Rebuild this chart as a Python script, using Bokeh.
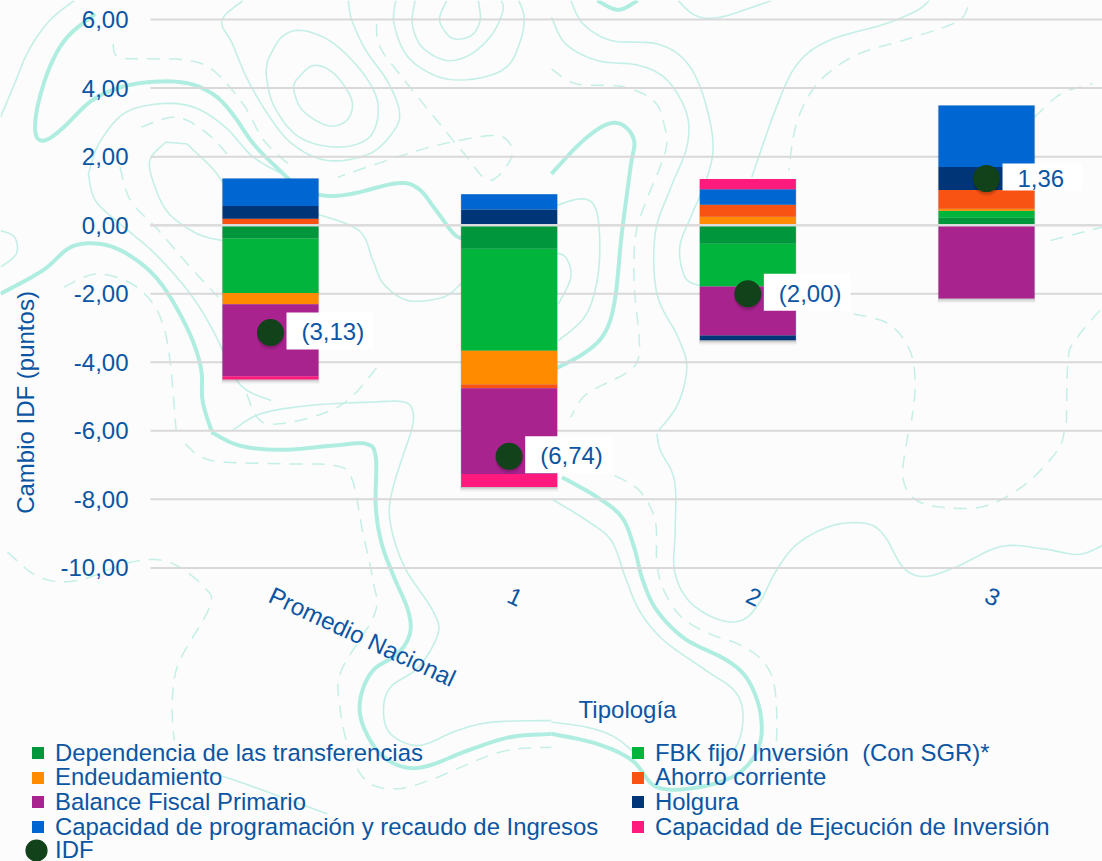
import math
import numpy as np
from bokeh.embed import file_html
from bokeh.resources import INLINE
from bokeh.plotting import figure
from bokeh.models import (Range1d, LinearAxis, FixedTicker, Legend, LegendItem, Label)

# ---------- data ----------
categories = ["Promedio Nacional", "1", "2", "3"]
dependencia = [-0.39, -0.69, -0.54, 0.22]
fbk = [-1.59, -2.97, -1.25, 0.20]
endeudamiento = [-0.33, -0.99, 0.25, 0.06]
ahorro = [0.19, -0.11, 0.35, 0.55]
balance = [-2.10, -2.50, -1.43, -2.14]
holgura = [0.37, 0.46, -0.14, 0.67]
capacidad_prog = [0.80, 0.44, 0.45, 1.79]
capacidad_ejec = [-0.09, -0.38, 0.30, 0.0]
idf = [-3.13, -6.74, -2.00, 1.36]
idf_labels = ["(3,13)", "(6,74)", "(2,00)", "1,36"]
y_ticks = [6, 4, 2, 0, -2, -4, -6, -8, -10]

series = [
    ("Dependencia de las transferencias", dependencia, "#00963C"),
    ("FBK fijo/ Inversión  (Con SGR)*", fbk, "#00B43C"),
    ("Endeudamiento", endeudamiento, "#FF8C00"),
    ("Ahorro corriente", ahorro, "#F95314"),
    ("Balance Fiscal Primario", balance, "#A9238F"),
    ("Holgura", holgura, "#003578"),
    ("Capacidad de programación y recaudo de Ingresos", capacidad_prog, "#0067D2"),
    ("Capacidad de Ejecución de Inversión", capacidad_ejec, "#FF1A7E"),
]

TEXT = "#0B55A3"
GRID = "#D9D9D9"
FONT = "Liberation Sans"
W, H = 1102, 861

PX_X0, PX_DX = 270.0, 238.67
PX_Y0, PX_DY = 224.7, 34.27
GRID_LEFT = (150 - PX_X0) / PX_DX
GRID_RIGHT = (W - PX_X0) / PX_DX

p = figure(width=W, height=H, output_backend="svg", toolbar_location=None,
           x_axis_type=None, y_axis_type=None,
           x_range=Range1d(-PX_X0 / PX_DX, (W - PX_X0) / PX_DX),
           y_range=Range1d((PX_Y0 - H) / PX_DY, PX_Y0 / PX_DY),
           min_border=0, min_border_left=0, min_border_right=0, min_border_top=0, min_border_bottom=0,
           outline_line_color=None, background_fill_color="#FCFCFC", border_fill_color="#FCFCFC")
p.grid.visible = False
p.extra_x_ranges["px"] = Range1d(0, W)
p.extra_y_ranges["px"] = Range1d(H, 0)


def smooth(pts):
    pts = np.array(pts, float)
    pp = np.vstack([pts[0], pts, pts[-1]])
    out = []
    for i in range(1, len(pp) - 2):
        p0, p1, p2, p3 = pp[i - 1], pp[i], pp[i + 1], pp[i + 2]
        for t in np.linspace(0, 1, 8, endpoint=False):
            out.append(0.5 * (2 * p1 + (p2 - p0) * t + (2 * p0 - 5 * p1 + 4 * p2 - p3) * t ** 2
                              + (3 * p1 - p0 - 3 * p2 + p3) * t ** 3))
    out.append(pp[-2])
    return np.array(out)


def q(x0, y0, pts):
    return [(x0 + a / 2.846, y0 + b / 3) for a, b in pts]


Z5 = (0, 0)
Z6 = (551, 0)
Z7 = (0, 430)
Z8 = (551, 430)

thick = [
    q(*Z5, [(270, 40), (190, 110), (140, 200), (105, 320), (100, 400), (125, 420), (175, 385), (260, 300), (350, 258),
            (450, 243), (540, 250), (610, 285), (660, 340), (720, 430), (790, 505), (850, 560), (920, 585), (1000, 580),
            (1130, 548), (1190, 565), (1240, 630), (1290, 700), (1320, 715)]),
    q(*Z6, [(0, 520), (80, 430), (150, 375), (200, 372), (235, 420), (225, 500), (200, 700), (180, 900), (150, 1000),
            (90, 1060), (0, 1110)]),
    q(*Z8, [(30, 140), (130, 200), (200, 260), (235, 350), (260, 450), (300, 540), (380, 625), (500, 690), (560, 750),
            (595, 850), (590, 950), (530, 1030), (420, 1070), (300, 1070), (230, 990), (130, 940), (0, 910)]),
    q(*Z7, [(1568, 910), (1450, 920), (1330, 960), (1220, 1005), (1150, 1010), (1080, 970), (1030, 880), (1025, 800),
            (1060, 720), (1130, 670), (1165, 610), (1160, 540), (1120, 440), (1085, 340), (1068, 230), (1068, 80),
            (1040, 40), (950, 45), (800, 58), (680, 45), (600, 5)]),
    q(*Z5, [(600, 1290), (575, 1200), (570, 1100), (530, 980), (450, 840), (360, 760), (280, 730), (200, 740),
            (120, 810), (0, 880)]),
    q(*Z6, [(130, 0), (190, 28), (245, 0)]),
]
thin = [
    q(*Z5, [(840, 240), (890, 195), (950, 220), (1000, 300), (985, 360), (930, 375), (860, 330), (835, 270), (840, 240)]),
    q(*Z5, [(760, 180), (800, 110), (860, 90), (950, 130), (1040, 230), (1075, 320), (1050, 410), (960, 440), (850, 410),
            (780, 320), (757, 230), (760, 180)]),
    q(*Z5, [(690, 0), (630, 60), (660, 130), (700, 230), (760, 340), (830, 430), (930, 480), (1050, 460), (1120, 390),
            (1135, 330), (1100, 240), (1040, 150), (1000, 60), (990, 0)]),
    q(*Z5, [(1360, 0), (1365, 60), (1340, 105), (1290, 115), (1260, 85), (1250, 50), (1270, 0)]),
    q(*Z5, [(1180, 0), (1172, 70), (1200, 140), (1270, 180), (1340, 160), (1400, 100), (1430, 30), (1425, 0)]),
    q(*Z5, [(1125, 0), (1120, 70), (1160, 170), (1250, 230), (1350, 235), (1440, 200), (1480, 120), (1490, 50), (1475, 0)]),
    q(*Z5, [(250, 520), (280, 430), (350, 340), (450, 310), (550, 320), (640, 380), (720, 470), (820, 530)]),
    q(*Z5, [(470, 425), (425, 480), (440, 560), (480, 640), (560, 700), (630, 720)]),
    q(*Z5, [(530, 430), (470, 425)]),
    q(*Z5, [(530, 430), (600, 500), (632, 545)]),
    q(*Z5, [(900, 640), (1020, 690), (1060, 780), (1090, 850), (1160, 900), (1260, 890), (1310, 850)]),
    q(*Z5, [(250, 520), (270, 600), (340, 670), (440, 760), (540, 880), (610, 1000), (680, 1150), (770, 1200)]),
    q(*Z5, [(660, 1290), (740, 1240), (880, 1215), (1050, 1205), (1150, 1205), (1175, 1240), (1170, 1290)]),
    q(*Z7, [(1170, 0), (1115, 180), (1110, 280), (1150, 410), (1230, 540), (1245, 610), (1190, 710), (1110, 770),
            (1090, 840), (1110, 910), (1190, 945), (1300, 900), (1400, 875), (1568, 870)]),
    q(*Z8, [(0, 875), (100, 890), (180, 920), (250, 980)]),
    q(*Z8, [(0, 205), (100, 270), (170, 330), (210, 440), (250, 540), (320, 630), (440, 720), (520, 780), (545, 850),
            (530, 940), (480, 1000)]),
    q(*Z8, [(300, 10), (310, 60), (350, 150), (352, 300), (350, 420), (390, 510), (470, 565), (540, 570), (590, 520),
            (640, 420), (700, 340), (800, 285), (900, 280), (950, 320), (1000, 410), (1060, 438), (1150, 410),
            (1280, 348), (1400, 355), (1500, 372), (1568, 345)]),
    q(*Z6, [(55, 0), (90, 70), (170, 120), (300, 130), (380, 180), (430, 280), (460, 430), (440, 540), (400, 640),
            (365, 740), (380, 830), (420, 855)]),
    q(*Z6, [(0, 50), (40, 130), (130, 180), (250, 195), (330, 240), (385, 340), (385, 440), (340, 560), (295, 700),
            (300, 880), (360, 1010), (385, 1100), (360, 1210), (305, 1290)]),
    q(*Z6, [(570, 530), (640, 320), (700, 190), (790, 120), (950, 70), (1040, 30), (1075, 0)]),
    q(*Z6, [(360, 0), (410, 45), (480, 50), (600, 10), (625, 0)]),
    q(*Z6, [(0, 620), (90, 595), (130, 640), (135, 800), (100, 940), (20, 1020)]),
    q(*Z6, [(0, 755), (40, 770), (55, 830), (20, 910)]),
    q(*Z5, [(0, 350), (40, 250), (80, 150), (140, 60), (210, 0)]),
    q(*Z5, [(0, 690), (40, 710), (45, 760), (0, 800)]),
    q(*Z7, [(560, 1020), (640, 1040), (800, 1100), (930, 1150)]),
]
dashed = [
    q(*Z6, [(1185, 20), (1170, 50), (1130, 75), (1000, 120), (900, 150), (830, 185), (760, 245), (715, 320), (690, 400), (675, 510)]),
    q(*Z6, [(0, 205), (70, 250), (200, 258), (290, 300), (320, 370), (325, 450), (270, 600), (240, 700), (235, 850),
            (250, 1050), (215, 1115), (100, 1180), (55, 1250)]),
    q(*Z6, [(860, 940), (960, 970), (1020, 1050), (1035, 1150), (1025, 1260)]),
    q(*Z8, [(1015, 10), (1000, 140), (1040, 210), (1130, 232), (1240, 225), (1350, 160), (1440, 60), (1460, 0)]),
    q(*Z8, [(180, 135), (250, 180), (295, 270), (300, 400), (320, 480), (370, 560), (450, 610), (530, 640), (600, 690),
            (635, 770), (640, 930), (620, 1000)]),
    q(*Z6, [(1375, 350), (1450, 280), (1540, 250)]),
    q(*Z6, [(1420, 720), (1568, 680)]),
    q(*Z6, [(1560, 930), (1490, 1020), (1470, 1080), (1465, 1290)]),
    q(*Z5, [(320, 130), (335, 170), (420, 175), (520, 178), (600, 205), (690, 310), (750, 420), (830, 500)]),
    q(*Z5, [(400, 380), (500, 350), (590, 400), (660, 480)]),
    q(*Z5, [(340, 500), (370, 600), (450, 690), (540, 800), (620, 890)]),
    q(*Z5, [(180, 860), (280, 820), (400, 870), (470, 1000), (500, 1290)]),
    q(*Z5, [(1070, 70), (1080, 140), (1150, 240), (1250, 370), (1320, 460), (1390, 540), (1450, 480), (1450, 430), (1400, 405),
            (1240, 435), (1100, 480), (960, 530)]),
    q(*Z5, [(700, 1180), (760, 1270), (960, 1220), (1080, 1090)]),
    q(*Z7, [(20, 365), (110, 440), (220, 450), (370, 395), (480, 395), (580, 470), (595, 530), (510, 690), (490, 790), (490, 880), (495, 930)]),
    q(*Z7, [(525, 40), (600, 90), (800, 100), (950, 105), (1000, 145), (1030, 300), (1060, 450), (1065, 550), (970, 720),
            (965, 820), (990, 950), (1040, 1050), (1120, 1075), (1220, 1050), (1420, 965), (1568, 950)]),
]
for group, col, lw, dash in ((thin, "#C4EFE7", 1.6, "solid"), (dashed, "#C4EFE7", 1.5, "13 9"), (thick, "#B0EDE1", 4, "solid")):
    curves = [smooth(c) for c in group]
    p.multi_line([c[:, 0].tolist() for c in curves], [c[:, 1].tolist() for c in curves],
                 line_color=col, line_width=lw, line_dash=dash, x_range_name="px", y_range_name="px", level="image")

# ---------- gridlines ----------
xi = list(range(len(categories)))
p.segment(x0=[GRID_LEFT] * len(y_ticks), x1=[GRID_RIGHT] * len(y_ticks), y0=y_ticks, y1=y_ticks,
          line_color=GRID, line_width=2, level="underlay")

# ---------- stacked bars ----------
BAR_W = 96 / PX_DX
pos = np.zeros(4)
neg = np.zeros(4)
for name, vals, col in series:
    v = np.array(vals)
    neg = neg + np.minimum(v, 0)
    pos = pos + np.maximum(v, 0)
tot_pos, tot_neg = pos.copy(), neg.copy()
for extra, alpha in ((0.14, 0.03), (0.10, 0.05), (0.06, 0.07), (0.03, 0.08)):
    p.vbar(x=xi, width=BAR_W + extra * 0.06, top=tot_pos, bottom=tot_neg - extra, fill_color="#000000",
           fill_alpha=alpha, line_color=None)

pos = np.zeros(4)
neg = np.zeros(4)
rend = {}
for name, vals, col in series:
    v = np.array(vals)
    base = np.where(v >= 0, pos, neg)
    end = base + v
    r = p.vbar(x=xi, width=BAR_W, bottom=base, top=end, fill_color=col, line_color=None)
    rend[name] = r
    pos = np.where(v >= 0, end, pos)
    neg = np.where(v < 0, end, neg)

p.segment(x0=[GRID_LEFT], x1=[GRID_RIGHT], y0=[0], y1=[0], line_color="#DCDCDC", line_width=2.6)

# ---------- IDF ----------
for extra, alpha in ((0.13, 0.05), (0.09, 0.07), (0.05, 0.09)):
    p.scatter(x=xi, y=np.array(idf) - extra, size=27, fill_color="#000000", fill_alpha=alpha, line_color=None)
idf_r = p.scatter(x=xi, y=idf, size=20, fill_color="#12421A", line_color="#12421A", line_width=7)

for x, y, t in zip(xi, idf, idf_labels):
    right_pad = 9 if t.startswith("(") else 18
    p.add_layout(Label(x=x, y=y, text=t, x_offset=16, y_offset=1.5, text_font=FONT, text_font_size="24px",
                       text_color=TEXT, text_align="left", text_baseline="middle",
                       background_fill_color="#FFFFFF", padding=(15, right_pad, 6, 4)))

# ---------- axes ----------
xaxis = LinearAxis(fixed_location=-10.0, ticker=FixedTicker(ticks=xi),
                   major_label_overrides={i: c for i, c in enumerate(categories)},
                   major_label_orientation=-math.radians(25), major_label_standoff=20,
                   major_label_text_font=FONT, major_label_text_font_size="24px",
                   major_label_text_color=TEXT, axis_line_color=None, major_tick_line_color=None,
                   minor_tick_line_color=None)
p.add_layout(xaxis, "below")
yaxis = LinearAxis(fixed_location=GRID_LEFT, ticker=FixedTicker(ticks=y_ticks),
                   major_label_overrides={t: f"{t:.2f}".replace(".", ",") for t in y_ticks},
                   major_label_standoff=16, major_label_text_font=FONT, major_label_text_font_size="24px",
                   major_label_text_color=TEXT, axis_line_color=None, major_tick_line_color=None,
                   minor_tick_line_color=None)
p.add_layout(yaxis, "left")

p.add_layout(Label(x=25, y=H - 402, x_units="screen", y_units="screen", text="Cambio IDF (puntos)", angle=math.pi / 2,
                   text_font=FONT, text_font_size="24px", text_color=TEXT, text_align="center", text_baseline="middle"))
p.add_layout(Label(x=627, y=H - 709, x_units="screen", y_units="screen", text="Tipología",
                   text_font=FONT, text_font_size="24px", text_color=TEXT, text_align="center", text_baseline="middle"))

# ---------- legends: one per row so that the tight row pitch of the reference is kept ----------
ROW_Y = [752.5, 777, 801.7, 826.7]
for col_x, idxs in ((30, (0, 2, 4, 6)), (630, (1, 3, 5, 7))):
    for row_y, i in zip(ROW_Y, idxs):
        name = series[i][0]
        p.add_layout(Legend(items=[LegendItem(label=name, renderers=[rend[name]])], location=(col_x, H - row_y - 14),
                            border_line_color=None, background_fill_alpha=0, padding=0, margin=0, spacing=0,
                            glyph_width=15, glyph_height=15, label_standoff=10, label_text_font=FONT,
                            label_text_font_size="23.9px", label_text_color=TEXT, label_height=13), "center")
p.add_layout(Legend(items=[LegendItem(label="IDF", renderers=[idf_r])], location=(17, H - 869),
                    border_line_color=None, background_fill_alpha=0, padding=0, margin=0,
                    glyph_width=38, glyph_height=38, label_standoff=0, label_text_font=FONT,
                    label_text_font_size="23.9px", label_text_color=TEXT), "center")

open("out.html", "w").write(file_html(p, INLINE))
